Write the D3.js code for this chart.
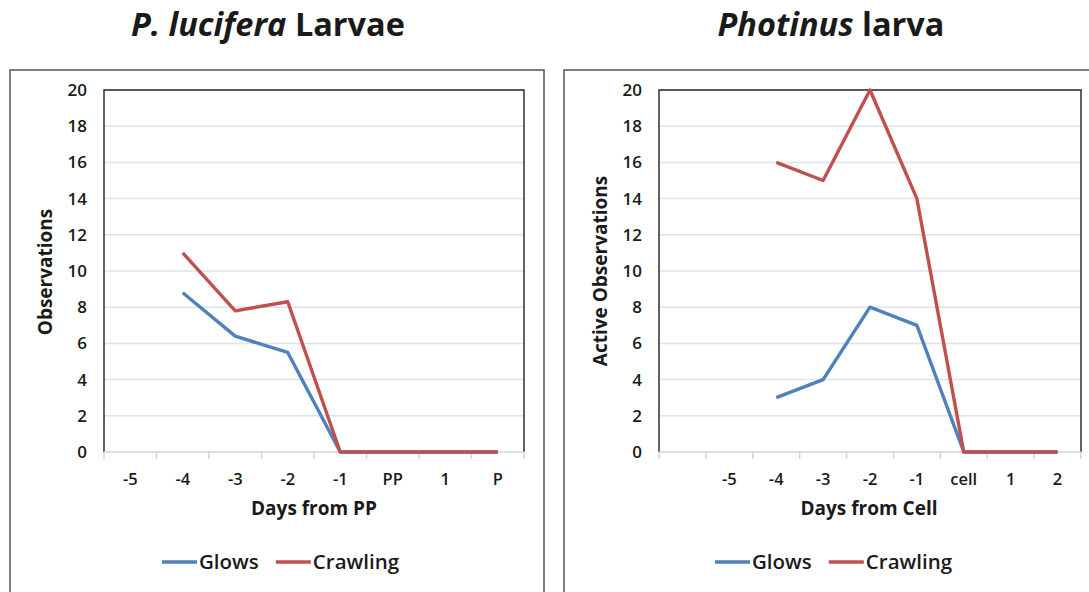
<!DOCTYPE html>
<html>
<head>
<meta charset="utf-8">
<script src="https://cdn.jsdelivr.net/npm/d3@7"></script>
<style>
  body { margin: 0; background: #fff; }
  text { font-family: "Open Sans", Lato, sans-serif; fill: #1a1a1a; }
</style>
</head>
<body>
<svg id="chart" width="1089" height="592"></svg>
<script>
// left panel
const luciferaDays = ["-5", "-4", "-3", "-2", "-1", "PP", "1", "P"]
const luciferaGlows = [null, 8.8, 6.4, 5.5, 0, 0, 0, 0]
const luciferaCrawling = [null, 11, 7.8, 8.3, 0, 0, 0, 0]

// right panel
const photinusDays = ["", "-5", "-4", "-3", "-2", "-1", "cell", "1", "2"]
const photinusGlows = [null, null, 3, 4, 8, 7, 0, 0, 0]
const photinusCrawling = [null, null, 16, 15, 20, 14, 0, 0, 0]

const yTicks = [0, 2, 4, 6, 8, 10, 12, 14, 16, 18, 20]
const seriesNames = ["Glows", "Crawling"]
const seriesColors = ["#4f81bd", "#c0504d"]

svg = d3.select("#chart")

function drawPanel(opt){
    g = svg.append("g")

    // outer frame
    g.append("rect")
        .attr("x", opt.box[0]).attr("y", opt.box[1])
        .attr("width", opt.box[2]).attr("height", opt.box[3])
        .attr("fill", "#fff").attr("stroke", "#555").attr("stroke-width", 1.5)

    // title
    t = g.append("text")
        .attr("x", opt.titleX).attr("y", 36)
        .attr("text-anchor", "middle")
        .attr("font-size", 32.5).attr("font-weight", "bold")
    t.append("tspan").attr("font-style", "italic").text(opt.titleItalic)
    t.append("tspan").text(opt.titleRest)

    xScale = d3.scaleBand()
        .domain(opt.days)
        .range([opt.left, opt.right])
    yScale = d3.scaleLinear()
        .domain([0, 20])
        .range([452, 90])

    // gridlines
    g.append("g")
        .selectAll("line")
        .data(yTicks.filter(d => d > 0 && d < 20))
        .join("line")
        .attr("x1", opt.left).attr("x2", opt.right)
        .attr("y1", d => yScale(d)).attr("y2", d => yScale(d))
        .attr("stroke", "#dce3ec").attr("stroke-width", 1.5)

    // plot frame (top, left, right)
    g.append("path")
        .attr("d", `M${opt.left},452V90H${opt.right}V452`)
        .attr("fill", "none").attr("stroke", "#222").attr("stroke-width", 1.4)

    // x axis with ticks at category boundaries
    bounds = opt.days.map((d, i) => opt.left + i * xScale.step()).concat([opt.right])
    xg = g.append("g")
    xg.append("line")
        .attr("x1", opt.left).attr("x2", opt.right)
        .attr("y1", 452).attr("y2", 452)
        .attr("stroke", "#d0d4da").attr("stroke-width", 1.5)
    xg.selectAll(".tk")
        .data(bounds)
        .join("line")
        .attr("x1", d => d).attr("x2", d => d)
        .attr("y1", 452).attr("y2", 459)
        .attr("stroke", "#d0d4da").attr("stroke-width", 1.5)
    xg.selectAll("text")
        .data(opt.days)
        .join("text")
        .attr("x", d => xScale(d) + xScale.bandwidth() / 2)
        .attr("y", 485)
        .attr("text-anchor", "middle")
        .attr("font-size", 16.5).attr("font-weight", 600)
        .text(d => d)

    // y axis labels
    g.append("g")
        .selectAll("text")
        .data(yTicks)
        .join("text")
        .attr("x", opt.left - 17)
        .attr("y", d => yScale(d) + 6)
        .attr("text-anchor", "end")
        .attr("font-size", 17).attr("font-weight", 600)
        .text(d => d)

    // axis titles
    g.append("text")
        .attr("x", opt.xTitleX).attr("y", 515)
        .attr("text-anchor", "middle")
        .attr("font-size", 19).attr("font-weight", "bold")
        .text(opt.xTitle)
    g.append("text")
        .attr("transform", `translate(${opt.yTitleX},${opt.yTitleY}) rotate(-90)`)
        .attr("text-anchor", "middle")
        .attr("font-size", 19).attr("font-weight", "bold")
        .text(opt.yTitle)

    // lines
    line = d3.line()
        .defined(d => d.v !== null)
        .x(d => xScale(d.k) + xScale.bandwidth() / 2)
        .y(d => yScale(d.v))
    opt.series.forEach((vals, i) => {
        g.append("path")
            .attr("d", line(vals.map((v, j) => ({k: opt.days[j], v: v}))))
            .attr("fill", "none")
            .attr("stroke", seriesColors[i])
            .attr("stroke-width", 3.4)
            .attr("stroke-linejoin", "round")
    })

    // legend
    lx = opt.legendX
    seriesNames.forEach((name, i) => {
        g.append("line")
            .attr("x1", lx).attr("x2", lx + 35)
            .attr("y1", 562).attr("y2", 562)
            .attr("stroke", seriesColors[i]).attr("stroke-width", 3.4)
        tx = g.append("text")
            .attr("x", lx + 37).attr("y", 569)
            .attr("font-size", 20.5).attr("font-weight", 600)
            .text(name)
        lx = lx + 37 + tx.node().getComputedTextLength() + 17
    })
}

drawPanel({
    box: [10, 70, 534, 530],
    titleX: 268, titleItalic: "P. lucifera ", titleRest: "Larvae",
    days: luciferaDays, left: 104, right: 524,
    series: [luciferaGlows, luciferaCrawling],
    xTitle: "Days from PP", xTitleX: 314,
    yTitle: "Observations", yTitleX: 52, yTitleY: 272,
    legendX: 162
})

drawPanel({
    box: [564, 70, 540, 530],
    titleX: 831, titleItalic: "Photinus ", titleRest: "larva",
    days: photinusDays, left: 659, right: 1081,
    series: [photinusGlows, photinusCrawling],
    xTitle: "Days from Cell", xTitleX: 869,
    yTitle: "Active Observations", yTitleX: 607, yTitleY: 271,
    legendX: 715
})
</script>
</body>
</html>
